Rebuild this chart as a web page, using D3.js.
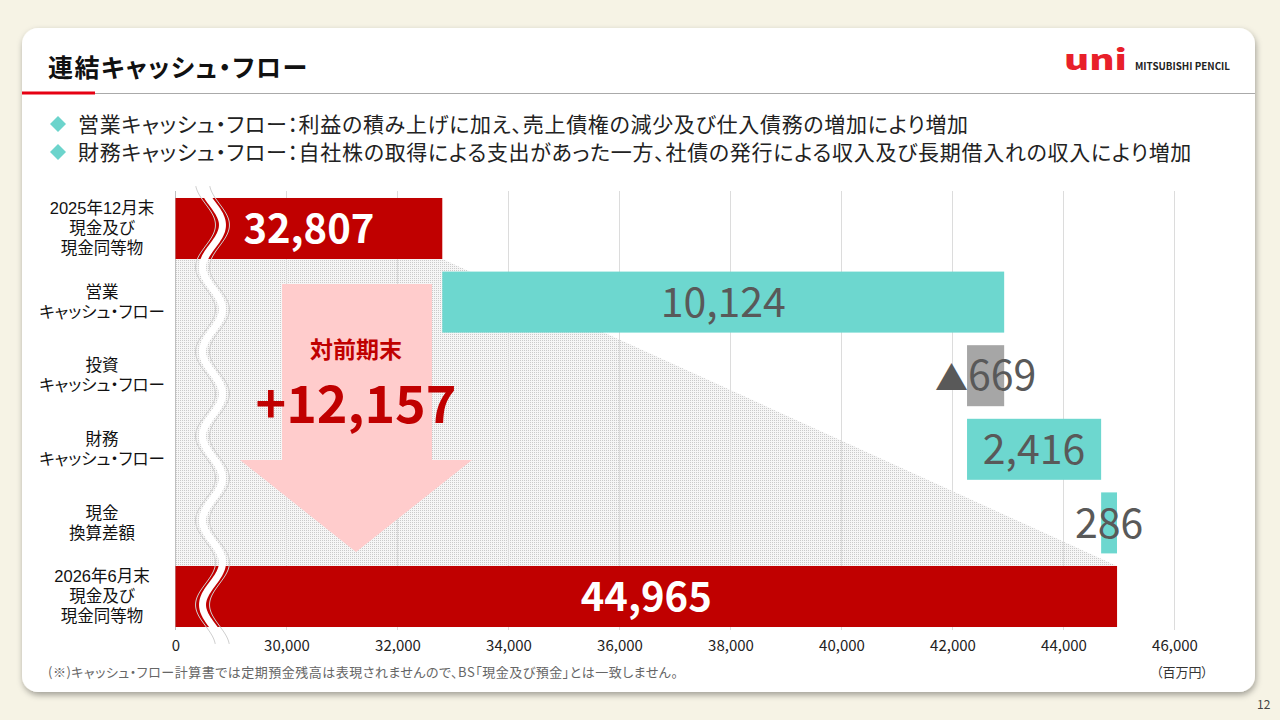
<!DOCTYPE html>
<html><head><meta charset="utf-8">
<script src="https://cdn.jsdelivr.net/npm/d3@7/dist/d3.min.js"></script>
<style>
html,body{margin:0;padding:0;background:#f6f3e5;}
svg{display:block;}
text{font-family:"Noto Sans CJK JP","Noto Sans",sans-serif;font-feature-settings:"palt" 1;}
text.tight{font-family:"Liberation Sans","Noto Sans CJK JP",sans-serif;}
</style></head>
<body>
<svg id="c" width="1280" height="720"></svg>
<script>
// ---- data ----
const categories = [
  ["2025年12月末","現金及び","現金同等物"],
  ["営業","キャッシュ・フロー"],
  ["投資","キャッシュ・フロー"],
  ["財務","キャッシュ・フロー"],
  ["現金","換算差額"],
  ["2026年6月末","現金及び","現金同等物"]
];
const kinds = ["total","delta","delta","delta","delta","total"];
const values = [32807, 10124, -669, 2416, 286, 44965];
const valueLabels = ["32,807","10,124","▲669","2,416","286","44,965"];
const axisBreak = 28000;
const tickValues = [28000,30000,32000,34000,36000,38000,40000,42000,44000,46000];
const tickLabels = ["0","30,000","32,000","34,000","36,000","38,000","40,000","42,000","44,000","46,000"];
const changeLabel = "+12,157";
const changeTitle = "対前期末";
const bullets = [
  "営業キャッシュ・フロー：利益の積み上げに加え、売上債権の減少及び仕入債務の増加により増加",
  "財務キャッシュ・フロー：自社株の取得による支出があった一方、社債の発行による収入及び長期借入れの収入により増加"
];
const title = "連結キャッシュ・フロー";
const footnote = "(※)キャッシュ・フロー計算書では定期預金残高は表現されませんので、BS「現金及び預金」とは一致しません。";
const unitLabel = "（百万円）";

// ---- build waterfall ----
let run = 0;
const rows = values.map((v,i)=>{
  let x0,x1;
  if(kinds[i]==="total"){ x0=axisBreak; x1=v; run=v; }
  else { x0=run; x1=run+v; run=run+v; }
  return {i, cat:categories[i], kind:kinds[i], v, x0:Math.min(x0,x1), x1:Math.max(x0,x1), label:valueLabels[i]};
});

const svg = d3.select("#c");
const defs = svg.append("defs");
const sh = defs.append("filter").attr("id","sh").attr("x","-5%").attr("y","-5%").attr("width","110%").attr("height","115%");
sh.append("feDropShadow").attr("dx",1).attr("dy",3).attr("stdDeviation",3).attr("flood-color","#000").attr("flood-opacity",0.35);
const pat = defs.append("pattern").attr("id","dots").attr("width",2).attr("height",2).attr("patternUnits","userSpaceOnUse");
pat.append("rect").attr("width",2).attr("height",2).attr("fill","#f6f6f6");
pat.append("rect").attr("width",1).attr("height",1).attr("fill","#cacaca");

// panel
svg.append("rect").attr("x",22).attr("y",28).attr("width",1233).attr("height",664).attr("rx",16)
  .attr("fill","#fff").attr("filter","url(#sh)");

// title & header line
svg.append("text").attr("x",48).attr("y",77).attr("font-size",25).attr("font-weight",700).attr("letter-spacing",1.5).attr("fill","#111").text(title);
svg.append("line").attr("x1",95).attr("x2",1255).attr("y1",93.5).attr("y2",93.5).attr("stroke","#aaa").attr("stroke-width",1);
svg.append("line").attr("x1",22).attr("x2",95).attr("y1",93).attr("y2",93).attr("stroke","#e60012").attr("stroke-width",3);

// logo
svg.append("text").attr("x",1064).attr("y",70).attr("font-family","DejaVu Sans").attr("font-size",28).attr("font-weight",900)
  .attr("fill","#e8202a").attr("textLength",63).attr("lengthAdjust","spacingAndGlyphs").text("uni");
svg.append("text").attr("x",1135).attr("y",70).attr("font-family","Liberation Sans").attr("font-size",10).attr("font-weight",700)
  .attr("fill","#222").attr("textLength",95).attr("lengthAdjust","spacingAndGlyphs").text("MITSUBISHI PENCIL");

// bullets
bullets.forEach((b,i)=>{
  const cy = 124 + i*28;
  svg.append("path").attr("d",`M58,${cy-8} L66,${cy} L58,${cy+8} L50,${cy} Z`).attr("fill","#6cd4cc");
  svg.append("text").attr("x",78).attr("y",cy+7.5).attr("font-size",21).attr("letter-spacing",0.7).attr("fill","#222").text(b);
});

// scales
const x = d3.scaleLinear().domain([axisBreak,46000]).range([175.5,1174.5]);
const y = d3.scaleBand().domain(d3.range(categories.length)).range([191.7,633.3]).paddingInner(0.171).paddingOuter(0.0855);
const bw = y.bandwidth();

// hatched area
const first = rows[0], last = rows[rows.length-1];
const hatch = [
  [x(axisBreak), y(0)+bw],
  [x(first.x1), y(0)+bw],
  [x(last.x1), y(last.i)],
  [x(axisBreak), y(last.i)]
];
svg.append("path").attr("d","M"+hatch.map(p=>p.join(",")).join("L")+"Z").attr("fill","url(#dots)");

// grid
const gTop = 191, gBot = 630;
svg.append("g").selectAll("line").data(tickValues).join("line")
  .attr("x1",d=>x(d)).attr("x2",d=>x(d)).attr("y1",gTop).attr("y2",gBot)
  .attr("stroke",(d,i)=>i===0?"#bfbfbf":"#dcdcdc").attr("stroke-width",1);

// axis labels
const ax = svg.append("g").attr("transform",`translate(0,${gBot})`)
  .call(d3.axisBottom(x).tickValues(tickValues).tickFormat((d,i)=>tickLabels[i]).tickSize(0).tickPadding(10));
ax.select(".domain").remove();
ax.selectAll("text").attr("font-family","Noto Sans").attr("font-size",15).attr("fill","#222");

// bars
const colorOf = r => r.kind==="total" ? "#c00000" : (r.v<0 ? "#a6a6a6" : "#6dd7cf");
svg.append("g").selectAll("rect").data(rows).join("rect")
  .attr("x",d=>x(d.x0)).attr("width",d=>x(d.x1)-x(d.x0))
  .attr("y",d=>y(d.i)).attr("height",bw).attr("fill",colorOf);

// axis break wave
const waveCx = 212.5, amp = 10, period = 84.4;
const wavePts = d3.range(186, 646, 2).map(yy => [waveCx + amp*Math.cos(2*Math.PI*(yy-225)/period), yy]);
const line = d3.line().curve(d3.curveBasis);
const wg = svg.append("g");
[-7,7].forEach(o=>{
  wg.append("path").attr("d",line(wavePts.map(p=>[p[0]+o,p[1]]))).attr("fill","none")
    .attr("stroke","#cfcfcf").attr("stroke-width",1);
});
wg.append("path").attr("d",line(wavePts)).attr("fill","none").attr("stroke","#fff").attr("stroke-width",7);

// value labels
const vl = svg.append("g").selectAll("text").data(rows).join("text")
  .attr("x",d=>(x(d.x0)+x(d.x1))/2).attr("y",d=>y(d.i)+bw/2)
  .attr("dy","0.36em").attr("text-anchor","middle")
  .attr("font-family","Noto Sans")
  .attr("font-size",d=>d.kind==="total"?40:41)
  .attr("font-weight",d=>d.kind==="total"?700:400)
  .attr("fill",d=>d.kind==="total"?"#fff":"#595959");
vl.each(function(d){
  const t = d3.select(this);
  if(d.label.startsWith("▲")){
    t.append("tspan").attr("font-family","Noto Sans CJK JP").attr("font-size",33).text("▲");
    t.append("tspan").text(d.label.slice(1));
  } else t.text(d.label);
});

// change arrow annotation
const ag = svg.append("g");
ag.append("path").attr("d","M282,284 L432,284 L432,460 L472,460 L356,552 L240,460 L282,460 Z").attr("fill","#ffcccc");
ag.append("text").attr("class","tight").attr("x",356).attr("y",358).attr("text-anchor","middle").attr("font-size",23).attr("font-weight",700)
  .attr("fill","#c00000").text(changeTitle);
ag.append("text").attr("x",356).attr("y",423).attr("text-anchor","middle").attr("font-family","Noto Sans").attr("font-size",52).attr("font-weight",700)
  .attr("fill","#c00000").text(changeLabel);

// category labels (one text element per category, lines as tspans)
const cg = svg.append("g");
rows.forEach(r=>{
  const n = r.cat.length, cy = y(r.i)+bw/2;
  const t = cg.append("text").attr("class","tight").attr("text-anchor","middle").attr("font-size",16.5).attr("fill","#111");
  r.cat.forEach((s,k)=>{
    t.append("tspan").attr("x",102).attr("y",cy + (k-(n-1)/2)*20).attr("dy","0.35em").text(s);
  });
});

// footnote, unit, page number
svg.append("text").attr("x",48).attr("y",677).attr("font-size",13).attr("letter-spacing",0.5).attr("fill","#666").text(footnote);
svg.append("text").attr("x",1182).attr("y",677).attr("text-anchor","middle").attr("font-size",13).attr("fill","#333").text(unitLabel);
svg.append("text").attr("x",1257).attr("y",709).attr("font-family","Noto Sans").attr("font-size",12).attr("fill","#444").text("12");
</script>
</body></html>
